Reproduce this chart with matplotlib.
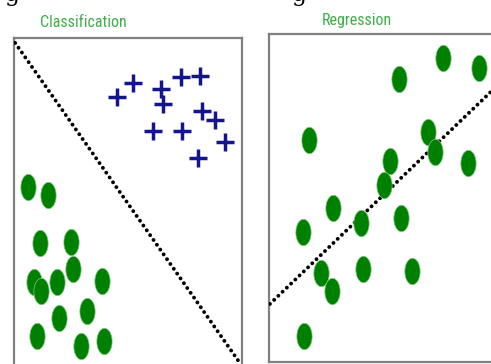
import numpy as np
import matplotlib
matplotlib.use("Agg")
import matplotlib.pyplot as plt
from matplotlib.path import Path
from matplotlib.markers import MarkerStyle

# classification panel: two clusters split by a boundary
cls_plus_x = [45.0, 52.3, 64.5, 65.5, 73.1, 81.6, 60.8, 73.6, 82.3, 88.2, 92.5, 80.8]
cls_plus_y = [82.1, 86.4, 84.4, 79.9, 88.0, 88.4, 71.6, 71.6, 77.8, 75.0, 68.4, 63.3]
cls_dot_x = [6.3, 14.8, 11.4, 25.0, 25.7, 8.9, 11.8, 18.7, 38.6, 19.9, 31.9, 10.0, 29.3, 39.6]
cls_dot_y = [54.7, 52.1, 37.4, 37.9, 29.6, 25.7, 23.0, 25.5, 26.0, 14.7, 16.8, 9.2, 6.1, 7.6]
boundary_x = [0.5, 99.0]
boundary_y = [98.5, 1.0]

# regression panel: scattered points with a fitted trend
reg_x = [18.0, 54.0, 71.1, 74.1, 88.7, 51.3, 58.2, 77.8, 93.8, 28.7,
         58.8, 41.1, 15.0, 23.1, 42.1, 64.0, 28.3, 15.8]
reg_y = [67.7, 61.3, 70.0, 64.1, 60.8, 54.0, 86.2, 92.6, 89.5, 46.9,
         43.8, 42.3, 39.7, 27.2, 28.4, 27.8, 21.7, 8.0]
trend_x = [0.4, 100.0]
trend_y = [17.7, 83.0]

titles = ["Classification", "Regression"]

W, H = 491, 364
fig = plt.figure(figsize=(W / 100, H / 100), dpi=100)
fig.patch.set_facecolor("white")

# tall ellipse marker for the green dots
t = np.linspace(0, 2 * np.pi, 60)
ellipse = MarkerStyle(Path(np.column_stack([0.58 * np.cos(t), np.sin(t)])))

green = "#008000"
navy = "#14148c"
frame = "#808080"
title_green = "#3fae49"
title_font = ["Noto Sans ExtraCondensed", "Noto Sans Condensed",
              "Roboto Condensed", "DejaVu Sans"]


def px_axes(left, top, width, height):
    ax = fig.add_axes([left / W, (H - top - height) / H, width / W, height / H])
    ax.set_xlim(0, 100)
    ax.set_ylim(0, 100)
    ax.set_xticks([])
    ax.set_yticks([])
    for s in ax.spines.values():
        s.set_color(frame)
        s.set_linewidth(1.6)
    return ax


def dotted(ax, xs, ys):
    ax.plot(xs, ys, color="black", lw=2.8, linestyle=(0, (0.01, 1.5)),
            dash_capstyle="round", zorder=3)


ax1 = px_axes(14, 38, 228, 328)
dotted(ax1, boundary_x, boundary_y)
ax1.plot(cls_plus_x, cls_plus_y, linestyle="none", marker="+", ms=13.5,
         mew=2.5, color=navy, zorder=4)
ax1.scatter(cls_dot_x, cls_dot_y, s=19 ** 2, marker=ellipse, color=green,
            edgecolors="#7fc97f", linewidths=0.5, zorder=4)

ax2 = px_axes(269, 34, 224, 328)
dotted(ax2, trend_x, trend_y)
ax2.scatter(reg_x, reg_y, s=19 ** 2, marker=ellipse, color=green,
            edgecolors="#7fc97f", linewidths=0.5, zorder=4)

fig.text(83 / W, 1 - 27 / H, titles[0], color=title_green, fontsize=11.5,
         family=title_font, fontstretch="extra-condensed",
         ha="center", va="baseline")
fig.text(357 / W, 1 - 25.5 / H, titles[1], color=title_green, fontsize=11.5,
         family=title_font, fontstretch="extra-condensed",
         ha="center", va="baseline")

# descenders of the line of text above the panels
fig.text(12 / W, 1 - 1 / H, "g", color="black", fontsize=17,
         family="DejaVu Serif", ha="center", va="baseline")
fig.text(299 / W, 1 - 1 / H, "g", color="black", fontsize=17,
         family="DejaVu Serif", ha="center", va="baseline")

fig.savefig("out.png", dpi=100, facecolor="white")
